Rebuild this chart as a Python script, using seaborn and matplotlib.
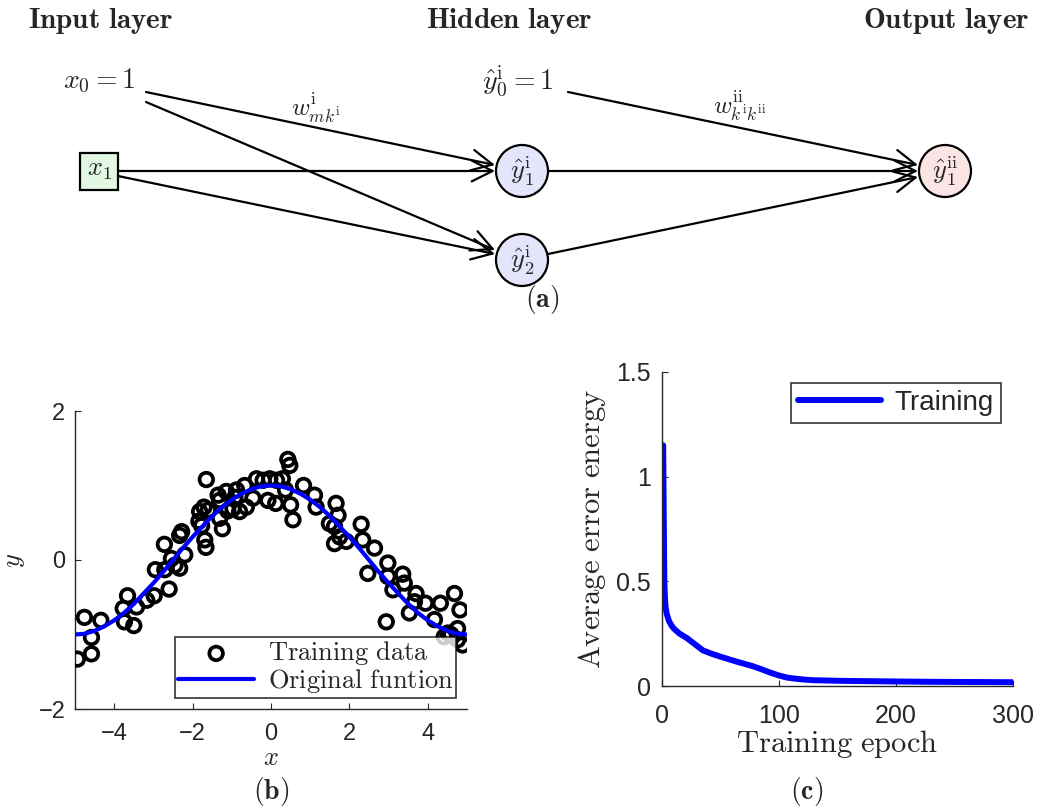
import matplotlib
matplotlib.use("Agg")
import matplotlib.pyplot as plt
import seaborn as sns
from matplotlib.patches import Circle, Rectangle, FancyArrowPatch

# ---- noisy training samples ----
train_x = [-4.94, -4.76, -4.58, -4.58, -4.34, -3.77, -3.66, -3.74, -3.50, -3.43,
           -3.17, -2.98, -2.95, -2.60, -2.72, -2.71, -2.54, -2.45, -2.33, -2.33,
           -2.28, -2.20, -1.82, -1.77, -1.65, -1.69, -1.66, -1.71, -1.60, -1.35,
           -1.31, -1.24, -1.31, -1.14, -0.97, -0.88, -0.80, -0.67, -0.63, -0.46,
           -0.37, -0.20, -0.08, -0.03, 0.12, 0.14, 0.29, 0.43, 0.48, 0.50,
           0.56, 0.37, 0.83, 1.11, 1.15, 1.49, 1.62, 1.66, 1.71, 1.62,
           1.75, 1.92, 2.30, 2.34, 2.64, 2.47, 2.94, 2.98, 2.98, 3.11,
           3.36, 3.40, 3.53, 3.70, 3.66, 3.94, 4.17, 4.32, 4.42, 4.68,
           4.82, 4.76, 4.89, 4.59, 4.51, 4.76, -1.84, -0.92, -1.10]
train_y = [-1.33, -0.77, -1.26, -1.04, -0.81, -0.65, -0.48, -0.83, -0.88, -0.63,
           -0.54, -0.48, -0.13, -0.39, 0.21, -0.13, 0.02, -0.07, -0.11, 0.33,
           0.38, 0.07, 0.65, 0.46, 1.08, 0.27, 0.17, 0.71, 0.67, 0.87,
           0.56, 0.42, 0.80, 0.92, 0.69, 0.94, 0.65, 1.00, 0.71, 0.83,
           1.09, 1.07, 0.80, 1.09, 0.76, 1.07, 1.09, 1.35, 1.27, 0.74,
           0.54, 0.94, 1.00, 0.87, 0.71, 0.49, 0.45, 0.76, 0.60, 0.22,
           0.31, 0.25, 0.48, 0.27, 0.16, -0.18, -0.83, -0.04, -0.22, -0.40,
           -0.19, -0.31, -0.71, -0.45, -0.56, -0.58, -0.80, -0.58, -1.03, -0.45,
           -0.67, -0.92, -1.14, -1.00, -0.98, -1.07, 0.52, 0.84, 0.66]

# ---- underlying function on a grid ----
func_x = [-5.0, -4.75, -4.5, -4.25, -4.0, -3.75, -3.5, -3.25, -3.0, -2.75,
          -2.5, -2.25, -2.0, -1.75, -1.5, -1.25, -1.0, -0.75, -0.5, -0.25,
          0.0, 0.25, 0.5, 0.75, 1.0, 1.25, 1.5, 1.75, 2.0, 2.25,
          2.5, 2.75, 3.0, 3.25, 3.5, 3.75, 4.0, 4.25, 4.5, 4.75, 5.0]
func_y = [-1.00, -0.99, -0.95, -0.89, -0.81, -0.71, -0.59, -0.45, -0.31, -0.16,
          0.00, 0.16, 0.31, 0.45, 0.59, 0.71, 0.81, 0.89, 0.95, 0.99,
          1.00, 0.99, 0.95, 0.89, 0.81, 0.71, 0.59, 0.45, 0.31, 0.16,
          0.00, -0.16, -0.31, -0.45, -0.59, -0.71, -0.81, -0.89, -0.95, -0.99, -1.00]

# ---- training history ----
epoch = [1, 1.5, 2, 2.5, 3, 4, 6, 8, 10, 15, 21, 28, 35, 42, 50, 57, 64, 71, 78,
         85, 92, 100, 107, 114, 121, 128, 135, 150, 163, 192, 230, 270, 300]
error = [1.15, 0.80, 0.50, 0.42, 0.38, 0.345, 0.31, 0.29, 0.275, 0.25, 0.23, 0.20,
         0.17, 0.155, 0.14, 0.128, 0.116, 0.105, 0.094, 0.08, 0.065, 0.05, 0.04,
         0.035, 0.031, 0.028, 0.027, 0.025, 0.024, 0.022, 0.020, 0.019, 0.018]

sns.set_style("ticks")
plt.rcParams["font.family"] = ["Liberation Sans", "DejaVu Sans"]
plt.rcParams["mathtext.fontset"] = "cm"
plt.rcParams["xtick.direction"] = "in"
plt.rcParams["ytick.direction"] = "in"
plt.rcParams["axes.linewidth"] = 1.0

W, H = 1038, 811
fig = plt.figure(figsize=(W / 100, H / 100), dpi=100)


def frac(left, top, right, bottom):
    return [left / W, 1 - bottom / H, (right - left) / W, (bottom - top) / H]


# ---------- (b) function approximation data ----------
axb = fig.add_axes(frac(75, 411, 467, 709))
sns.scatterplot(x=train_x, y=train_y, ax=axb, marker="o", s=95,
                facecolors="none", edgecolors="black", linewidth=2.7,
                label=r"$\mathrm{Training\ data}$", zorder=3)
sns.lineplot(x=func_x, y=func_y, ax=axb, color=(0, 0, 1), linewidth=3.0,
             label=r"$\mathrm{Original\ funtion}$", zorder=4, sort=False)
axb.set_xlim(-5, 5)
axb.set_ylim(-2, 2)
axb.set_xticks([-4, -2, 0, 2, 4])
axb.set_yticks([-2, 0, 2])
axb.set_xticklabels(["\u22124", "\u22122", "0", "2", "4"])
axb.set_yticklabels(["\u22122", "0", "2"])
axb.tick_params(axis="x", labelsize=17, length=4, width=0.8, pad=10)
axb.tick_params(axis="y", labelsize=17, length=4, width=0.8, pad=7)
axb.set_xlabel(r"$x$", fontsize=19, labelpad=1)
axb.set_ylabel(r"$y$", fontsize=19, labelpad=8)
sns.despine(ax=axb)
legb = axb.legend(loc="lower right", bbox_to_anchor=(0.972, 0.037),
                  borderaxespad=0, fontsize=19, handlelength=2.9,
                  frameon=True, fancybox=False, edgecolor="black",
                  borderpad=0.1, labelspacing=0.0, handletextpad=0.5)
legb.get_frame().set_linewidth(1.2)

# ---------- (c) learning curve ----------
axc = fig.add_axes(frac(662, 372, 1013, 686))
sns.lineplot(x=epoch, y=error, ax=axc, color=(0, 0, 1), linewidth=4.3,
             label="Training", sort=False)
axc.set_xlim(0, 300)
axc.set_ylim(0, 1.5)
axc.set_xticks([0, 100, 200, 300])
axc.set_yticks([0, 0.5, 1, 1.5])
axc.set_yticklabels(["0", "0.5", "1", "1.5"])
axc.tick_params(axis="x", labelsize=18, length=4, width=0.8, pad=13)
axc.tick_params(axis="y", labelsize=18, length=4, width=0.8, pad=8)
axc.set_xlabel(r"$\mathrm{Training\ epoch}$", fontsize=22, labelpad=0)
axc.set_ylabel(r"$\mathrm{Average\ error\ energy}$", fontsize=22, labelpad=6)
sns.despine(ax=axc)
legc = axc.legend(loc="upper right", bbox_to_anchor=(0.966, 0.965),
                  borderaxespad=0, fontsize=20, handlelength=3.0,
                  frameon=True, fancybox=False, edgecolor="black",
                  borderpad=0.25, handletextpad=0.5)
legc.get_frame().set_linewidth(1.2)

# ---------- (a) network diagram on a pixel canvas ----------
ov = fig.add_axes([0, 0, 1, 1])
ov.set_xlim(0, W)
ov.set_ylim(H, 0)
ov.axis("off")
ov.patch.set_alpha(0)

for txt, cx in [("Input layer", 100), ("Hidden layer", 509), ("Output layer", 946)]:
    ov.text(cx, 21, r"$\mathbf{" + txt.replace(" ", r"\ ") + "}$", fontsize=21,
            ha="center", va="center")

ov.add_patch(Rectangle((80, 153), 38, 37, facecolor="#e2f8e2", edgecolor="black", lw=1.6))
ov.text(99, 170, r"$x_1$", fontsize=19, ha="center", va="center")
ov.text(99, 81, r"$x_0=1$", fontsize=20, ha="center", va="center")
ov.text(518, 81, r"$\hat{y}^{\mathrm{i}}_0=1$", fontsize=20, ha="center", va="center")

nodes = {"h1": (522, 171, "#e4e4fb", r"$\hat{y}^{\mathrm{i}}_1$"),
         "h2": (522, 260, "#e4e4fb", r"$\hat{y}^{\mathrm{i}}_2$"),
         "o1": (945, 171, "#fbe4e4", r"$\hat{y}^{\mathrm{ii}}_1$")}
for cx, cy, fc, lab in nodes.values():
    ov.add_patch(Circle((cx, cy), 26, facecolor=fc, edgecolor="black", lw=1.6))
    ov.text(cx, cy, lab, fontsize=19, ha="center", va="center")

edges = [((146, 92), (495, 165)), ((146, 102), (495, 250)),
         ((118, 171), (495, 171)), ((118, 176), (495, 254)),
         ((548, 171), (918, 171)), ((548, 254), (918, 177)),
         ((568, 92), (918, 165))]
for a, b in edges:
    ov.add_patch(FancyArrowPatch(a, b, arrowstyle="->,head_length=5,head_width=2.5",
                                 mutation_scale=3.0, lw=1.6, color="black",
                                 shrinkA=0, shrinkB=0))

ov.text(316, 108, r"$w^{\mathrm{i}}_{mk^{\mathrm{i}}}$", fontsize=18, ha="center", va="center")
ov.text(740, 106, r"$w^{\mathrm{ii}}_{k^{\mathrm{i}}k^{\mathrm{ii}}}$", fontsize=18,
        ha="center", va="center")

for lab, cx, cy in [("a", 542, 299), ("b", 271, 792), ("c", 807, 792)]:
    ov.text(cx, cy, r"$\mathbf{(" + lab + ")}$", fontsize=20, ha="center", va="center")

fig.savefig("out.png", dpi=100)
